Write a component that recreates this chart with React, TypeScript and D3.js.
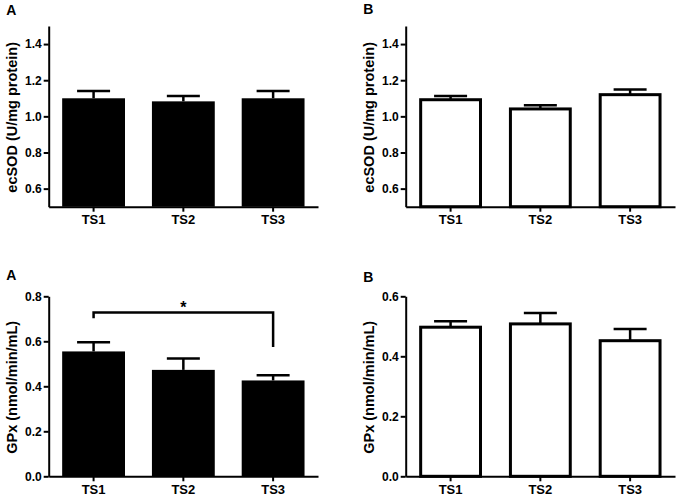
import React, { useEffect, useRef } from 'react';
import * as d3 from 'd3';

const groups = ['TS1', 'TS2', 'TS3'];

const ecsodA = [1.1, 1.083, 1.1];
const ecsodAErr = [0.04, 0.03, 0.04];
const ecsodB = [1.092, 1.041, 1.12];
const ecsodBErr = [0.02, 0.02, 0.028];

const gpxA = [0.555, 0.473, 0.426];
const gpxAErr = [0.041, 0.051, 0.023];
const gpxB = [0.497, 0.508, 0.452];
const gpxBErr = [0.02, 0.036, 0.039];

const ecsodTicks = [0.6, 0.8, 1.0, 1.2, 1.4];
const gpxATicks = [0, 0.2, 0.4, 0.6, 0.8];
const gpxBTicks = [0, 0.2, 0.4, 0.6];

// significance bracket TS1 vs TS3 in GPx panel A: [line level, left foot, right foot]
const bracketLevels = [0.728, 0.702, 0.575];
const bracketLabel = '*';

interface Panel {
  letter: string;
  title: string;
  values: number[];
  errors: number[];
  domain: [number, number];
  ticks: number[];
  filled: boolean;
  left: number;
  right: number;
  top: number;
  bottom: number;
  letterY: number;
}

const panels: Panel[] = [
  { letter: 'A', title: 'ecSOD (U/mg protein)', values: ecsodA, errors: ecsodAErr, domain: [0.5, 1.5], ticks: ecsodTicks, filled: true, left: 48.7, right: 318, top: 26, bottom: 206.7, letterY: 15 },
  { letter: 'B', title: 'ecSOD (U/mg protein)', values: ecsodB, errors: ecsodBErr, domain: [0.5, 1.5], ticks: ecsodTicks, filled: false, left: 405.7, right: 675, top: 26, bottom: 206.7, letterY: 14 },
  { letter: 'A', title: 'GPx (nmol/min/mL)', values: gpxA, errors: gpxAErr, domain: [0, 0.8], ticks: gpxATicks, filled: true, left: 48.7, right: 318, top: 296.3, bottom: 476.3, letterY: 280 },
  { letter: 'B', title: 'GPx (nmol/min/mL)', values: gpxB, errors: gpxBErr, domain: [0, 0.6], ticks: gpxBTicks, filled: false, left: 405.7, right: 675, top: 296.3, bottom: 476.3, letterY: 282 },
];

const FONT = '"Liberation Sans", Arial, sans-serif';

const App: React.FC = () => {
  const ref = useRef<SVGSVGElement | null>(null);

  useEffect(() => {
    if (!ref.current) return;
    const svg = d3.select(ref.current);
    svg.selectAll('*').remove();

    panels.forEach((p, pi) => {
      const g = svg.append('g');
      const x = d3
        .scaleBand<string>()
        .domain(groups)
        .range([p.left, p.right])
        .paddingInner(0.3)
        .paddingOuter(0.15);
      const y = d3.scaleLinear().domain(p.domain).range([p.bottom, p.top]);
      const bw = x.bandwidth();
      const capW = 33;

      // error bars (upper only)
      p.values.forEach((v, i) => {
        const cx = x(groups[i])! + bw / 2;
        const yTop = y(v + p.errors[i]);
        g.append('line')
          .attr('x1', cx).attr('x2', cx)
          .attr('y1', y(v)).attr('y2', yTop)
          .attr('stroke', '#000').attr('stroke-width', 2.5);
        g.append('line')
          .attr('x1', cx - capW / 2).attr('x2', cx + capW / 2)
          .attr('y1', yTop).attr('y2', yTop)
          .attr('stroke', '#000').attr('stroke-width', 2.5);
      });

      // bars
      const sw = p.filled ? 0 : 3;
      g.selectAll('rect.bar')
        .data(p.values)
        .enter()
        .append('rect')
        .attr('class', 'bar')
        .attr('x', (_, i) => x(groups[i])! + sw / 2)
        .attr('width', bw - sw)
        .attr('y', (d) => y(d))
        .attr('height', (d) => y(p.domain[0]) - y(d))
        .attr('fill', p.filled ? '#000' : '#fff')
        .attr('stroke', p.filled ? 'none' : '#000')
        .attr('stroke-width', sw);

      // axes
      const yAxis = g
        .append('g')
        .attr('transform', `translate(${p.left},0)`)
        .call(
          d3.axisLeft(y).tickValues(p.ticks).tickFormat(d3.format('.1f')).tickSize(5).tickSizeOuter(0).tickPadding(2)
        );
      const xAxis = g
        .append('g')
        .attr('transform', `translate(0,${p.bottom})`)
        .call(d3.axisBottom(x).tickSize(5).tickSizeOuter(0).tickPadding(3));

      [yAxis, xAxis].forEach((a) => {
        a.selectAll('path, line').attr('stroke', '#000').attr('stroke-width', 2);
        a.selectAll('text')
          .attr('fill', '#000')
          .style('font-family', FONT)
          .style('font-weight', 'bold');
      });
      yAxis.selectAll('text').style('font-size', '12px');
      xAxis.selectAll('text').style('font-size', '13px');

      // y title
      g.append('text')
        .attr('transform', `translate(${p.left - 31.5},${(p.top + p.bottom) / 2 + 1}) rotate(-90)`)
        .attr('text-anchor', 'middle')
        .style('font-family', FONT)
        .style('font-weight', 'bold')
        .style('font-size', '14.5px')
        .text(p.title);

      // panel letter
      g.append('text')
        .attr('x', p.left - 42.5)
        .attr('y', p.letterY)
        .style('font-family', FONT)
        .style('font-weight', 'bold')
        .style('font-size', '14px')
        .text(p.letter);

      if (pi === 2) {
        const x1 = x(groups[0])! + bw / 2;
        const x3 = x(groups[2])! + bw / 2;
        const path = d3.path();
        path.moveTo(x1, y(bracketLevels[1]));
        path.lineTo(x1, y(bracketLevels[0]));
        path.lineTo(x3, y(bracketLevels[0]));
        path.lineTo(x3, y(bracketLevels[2]));
        g.append('path')
          .attr('d', path.toString())
          .attr('fill', 'none')
          .attr('stroke', '#000')
          .attr('stroke-width', 2.5);
        g.append('text')
          .attr('x', x(groups[1])! + bw / 2)
          .attr('y', y(bracketLevels[0]) + 0.5)
          .attr('text-anchor', 'middle')
          .style('font-family', FONT)
          .style('font-weight', 'bold')
          .style('font-size', '16px')
          .text(bracketLabel);
      }
    });
  }, []);

  return (
    <svg
      ref={ref}
      width={680}
      height={496}
      style={{ position: 'absolute', left: 0, top: 0, background: '#fff' }}
    ></svg>
  );
};

export default App;
